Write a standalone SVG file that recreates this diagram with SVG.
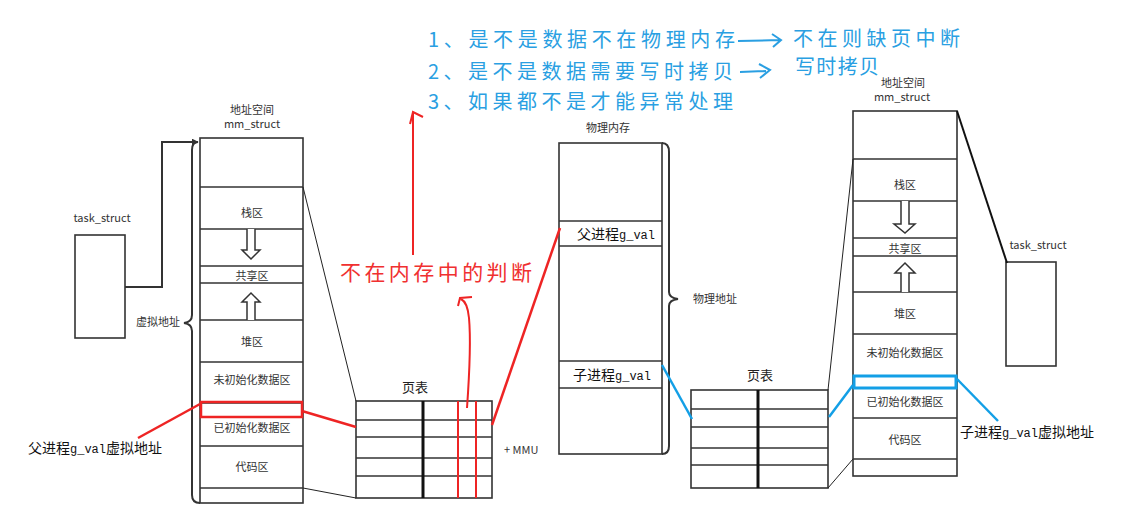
<svg xmlns="http://www.w3.org/2000/svg" width="1146" height="509" viewBox="0 0 1146 509">
<style>
.box{fill:#fff;stroke:#333;stroke-width:1.6}
.row{stroke:#333;stroke-width:1.4}
.lbl{font-family:"Noto Sans CJK SC","Liberation Sans",sans-serif;font-size:11px;fill:#333;text-anchor:middle}
.lbl2{font-family:"Noto Sans CJK SC","Liberation Sans",sans-serif;font-size:11px;fill:#333}
.pt{font-family:"Noto Sans CJK SC",sans-serif;font-size:13px;fill:#222;text-anchor:middle}
.blk{font-family:"Noto Sans CJK SC",sans-serif;font-size:14px;fill:#111}
.mono{font-family:"Liberation Mono",monospace;font-size:12px}
.blue{font-family:"Noto Sans CJK SC",sans-serif;font-size:20px;fill:#2a9fe2}
.arr{fill:#fff;stroke:#333;stroke-width:1.5}
.thin{stroke:#222;stroke-width:1;fill:none}
.red{stroke:#ee2424;stroke-width:2.5;fill:none}
.bl{stroke:#139fe6;stroke-width:2.5;fill:none}
</style>
<defs>
<marker id="tri" viewBox="0 0 10 10" refX="9" refY="5" markerWidth="7" markerHeight="7" orient="auto" markerUnits="userSpaceOnUse">
<path d="M0,0 L10,5 L0,10 z" fill="#333"/>
</marker>
</defs>

<!-- top notes -->
<g id="notes">
<text class="blue" x="428" y="47" textLength="307">1、是不是数据不在物理内存</text>
<text class="blue" x="428" y="79" textLength="305">2、是不是数据需要写时拷贝</text>
<text class="blue" x="428" y="109" textLength="305">3、如果都不是才能异常处理</text>
<text class="blue" x="793" y="46" font-size="19" textLength="167">不在则缺页中断</text>
<text class="blue" x="795" y="74" font-size="19" textLength="84">写时拷贝</text>
<path d="M738,41 L780,40 M772,34 L781,40 L773,47" stroke="#2a9fe2" stroke-width="2" fill="none"/>
<path d="M740,72 L766,71 M759,64 L770,70 L760,78" stroke="#2a9fe2" stroke-width="2" fill="none"/>
</g>

<!-- left task_struct -->
<g id="task_left">
<text class="lbl" x="102" y="222">task_struct</text>
<rect class="box" x="75" y="235" width="50" height="103"/>
</g>

<!-- left address space -->
<g id="mm_left">
<text class="lbl" x="252" y="114">地址空间</text>
<text class="lbl" x="252" y="128">mm_struct</text>
<rect class="box" x="200" y="138" width="103" height="365"/>
<line class="row" x1="200" y1="187" x2="303" y2="187"/>
<line class="row" x1="200" y1="229" x2="303" y2="229"/>
<line class="row" x1="200" y1="266" x2="303" y2="266"/>
<line class="row" x1="200" y1="283" x2="303" y2="283"/>
<line class="row" x1="200" y1="320" x2="303" y2="320"/>
<line class="row" x1="200" y1="362" x2="303" y2="362"/>
<line class="row" x1="200" y1="403" x2="303" y2="403"/>
<line class="row" x1="200" y1="446" x2="303" y2="446"/>
<line class="row" x1="200" y1="488" x2="303" y2="488"/>
<text class="lbl" x="252" y="217">栈区</text>
<text class="lbl" x="252" y="280">共享区</text>
<text class="lbl" x="252" y="346">堆区</text>
<text class="lbl" x="252" y="384">未初始化数据区</text>
<text class="lbl" x="252" y="432">已初始化数据区</text>
<text class="lbl" x="252" y="471">代码区</text>
<path class="arr" d="M247,229 L247,250 L242,250 L251,259 L260,250 L255,250 L255,229"/>
<path class="arr" d="M247,320 L247,302 L242,302 L251,293 L260,302 L255,302 L255,320"/>
<rect x="201" y="402" width="101" height="15" fill="none" stroke="#ee2424" stroke-width="2.5"/>
<path d="M198,142 Q192,142 192,150 L192,315 Q192,322 184,323 Q192,324 192,331 L192,495 Q192,503 200,503" fill="none" stroke="#333" stroke-width="2"/>
<text class="lbl2" x="180" y="326" text-anchor="end">虚拟地址</text>
</g>

<!-- left page table -->
<g id="pt_left">
<text class="pt" x="415" y="392">页表</text>
<rect class="box" x="356" y="401" width="136" height="97" stroke-width="2"/>
<line class="row" x1="356" y1="420" x2="492" y2="420" stroke-width="2"/>
<line class="row" x1="356" y1="437" x2="492" y2="437" stroke-width="2"/>
<line class="row" x1="356" y1="458" x2="492" y2="458" stroke-width="2"/>
<line class="row" x1="356" y1="476" x2="492" y2="476" stroke-width="2"/>
<line x1="423" y1="401" x2="423" y2="498" stroke="#111" stroke-width="3"/>
<line x1="458" y1="401" x2="458" y2="498" stroke="#ee2424" stroke-width="2"/>
<line x1="476" y1="401" x2="476" y2="498" stroke="#ee2424" stroke-width="2"/>
<text class="lbl2" x="504" y="454" font-size="12">+ MMU</text>
</g>

<!-- physical memory -->
<g id="phys">
<text class="lbl" x="608" y="132">物理内存</text>
<rect class="box" x="559" y="143" width="103" height="311"/>
<line class="row" x1="559" y1="221" x2="662" y2="221" stroke="#777"/>
<line class="row" x1="559" y1="246" x2="662" y2="246"/>
<line class="row" x1="559" y1="361" x2="662" y2="361" stroke="#777"/>
<line class="row" x1="559" y1="388" x2="662" y2="388"/>
<text class="blk" x="577" y="239">父进程<tspan class="mono">g_val</tspan></text>
<text class="blk" x="573" y="380">子进程<tspan class="mono">g_val</tspan></text>
<path d="M662,143 Q669,143 669,152 L669,292 Q669,298 678,299 Q669,300 669,306 L669,446 Q669,454 662,454" fill="none" stroke="#333" stroke-width="2"/>
<text class="lbl2" x="693" y="303">物理地址</text>
</g>

<!-- right page table -->
<g id="pt_right">
<text class="pt" x="760" y="380">页表</text>
<rect class="box" x="691" y="390" width="137" height="98" stroke-width="2"/>
<line class="row" x1="691" y1="409" x2="828" y2="409" stroke-width="2"/>
<line class="row" x1="691" y1="427" x2="828" y2="427" stroke-width="2"/>
<line class="row" x1="691" y1="448" x2="828" y2="448" stroke-width="2"/>
<line class="row" x1="691" y1="465" x2="828" y2="465" stroke-width="2"/>
<line x1="758" y1="390" x2="758" y2="488" stroke="#111" stroke-width="3"/>
</g>

<!-- right address space -->
<g id="mm_right">
<text class="lbl" x="903" y="87">地址空间</text>
<text class="lbl" x="902" y="101">mm_struct</text>
<rect class="box" x="853" y="111" width="104" height="365"/>
<line class="row" x1="853" y1="159" x2="957" y2="159"/>
<line class="row" x1="853" y1="201" x2="957" y2="201"/>
<line class="row" x1="853" y1="238" x2="957" y2="238"/>
<line class="row" x1="853" y1="256" x2="957" y2="256"/>
<line class="row" x1="853" y1="292" x2="957" y2="292"/>
<line class="row" x1="853" y1="334" x2="957" y2="334"/>
<line class="row" x1="853" y1="418" x2="957" y2="418"/>
<line class="row" x1="853" y1="459" x2="957" y2="459"/>
<text class="lbl" x="905" y="189">栈区</text>
<text class="lbl" x="905" y="253">共享区</text>
<text class="lbl" x="905" y="318">堆区</text>
<text class="lbl" x="905" y="357">未初始化数据区</text>
<text class="lbl" x="905" y="406">已初始化数据区</text>
<text class="lbl" x="905" y="444">代码区</text>
<path class="arr" d="M901,201 L901,224 L894,224 L905,233 L915,224 L909,224 L909,201"/>
<path class="arr" d="M901,292 L901,273 L895,273 L905,263 L915,273 L909,273 L909,292"/>
<rect x="854" y="376" width="102" height="12" fill="none" stroke="#139fe6" stroke-width="3"/>
</g>

<!-- right task_struct -->
<g id="task_right">
<text class="lbl" x="1038" y="249">task_struct</text>
<rect class="box" x="1006" y="262" width="50" height="104"/>
</g>

<!-- side labels -->
<g id="labels">
<text class="blk" x="28" y="453">父进程<tspan class="mono">g_val</tspan>虚拟地址</text>
<text class="blk" x="960" y="437">子进程<tspan class="mono">g_val</tspan>虚拟地址</text>
<text x="340" y="280" font-family="'Noto Sans CJK SC',sans-serif" font-size="21" fill="#f03030" textLength="192">不在内存中的判断</text>
</g>

<!-- connectors -->
<g id="connectors">
<polyline points="125,287 162,287 162,142 198,142" fill="none" stroke="#333" stroke-width="2" marker-end="url(#tri)"/>
<line class="thin" x1="303" y1="187" x2="356" y2="401"/>
<line class="thin" x1="303" y1="488" x2="356" y2="498"/>
<line class="thin" x1="828" y1="390" x2="853" y2="159"/>
<line class="thin" x1="828" y1="488" x2="853" y2="459"/>
<line x1="957" y1="111" x2="1007" y2="263" stroke="#111" stroke-width="2"/>
<line class="red" x1="138" y1="438" x2="200" y2="404"/>
<line class="red" x1="302" y1="411" x2="356" y2="427"/>
<line class="red" x1="492" y1="425" x2="560" y2="228"/>
<path d="M413,255 L413,113 M410,124 L413,112 L423,117" stroke="#ee2424" stroke-width="2" fill="none"/>
<path d="M467,408 C469,380 471,340 469,318 C468,307 465,301 461,299 M458,306 L460,298 L472,297" stroke="#ee2424" stroke-width="2" fill="none"/>
<line class="bl" x1="662" y1="365" x2="692" y2="419"/>
<line class="bl" x1="829" y1="417" x2="853" y2="385"/>
<line class="bl" x1="957" y1="379" x2="998" y2="421"/>
</g>
</svg>
